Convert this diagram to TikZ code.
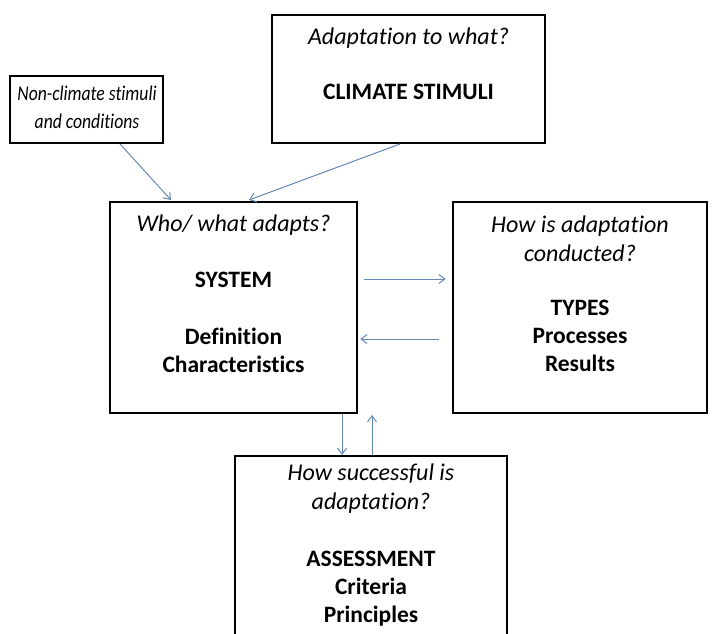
\documentclass[tikz,border=0pt]{standalone}
\usepackage{fontspec}
\setmainfont{Carlito}[Ligatures={NoCommon}]
\usetikzlibrary{positioning,arrows.meta}
\definecolor{arrowblue}{RGB}{100,135,180}
\newcommand{\narrow}[1]{\scalebox{0.84}[1]{#1}}

\begin{document}
\begin{tikzpicture}[x=1pt,y=-1pt,>={Straight Barb[length=6pt,width=9pt]},
    box/.style={draw,line width=2.6pt,inner sep=0pt},
    ask/.style={font=\fontsize{24}{29}\selectfont\itshape,align=center,inner sep=0pt},
    key/.style={font=\fontsize{23.5}{28}\selectfont\bfseries,align=center,inner sep=0pt},
    link/.style={->,draw=arrowblue,line width=1pt}]
    \useasboundingbox (0,0) rectangle (713,634);

    % boxes
    \node[box,minimum width=153pt,minimum height=67pt] (nonclim) at (86.5,109.5) {};
    \node[box,minimum width=273pt,minimum height=128pt] (clim) at (408.5,79) {};
    \node[box,minimum width=247pt,minimum height=211pt] (sys) at (233.5,307.5) {};
    \node[box,minimum width=254pt,minimum height=211pt] (types) at (580,307.5) {};
    \node[box,minimum width=272pt,minimum height=204pt] (assess) at (371,558) {};

    % texts
    \node[ask,font=\fontsize{21}{28}\selectfont\itshape] (nonclimq) at (87,107) {\narrow{Non-climate stimuli}\\\narrow{and conditions}};
    \node[ask] (climq) at (408.5,38) {Adaptation to what?};
    \node[key] (climk) at (408.5,92) {CLIMATE STIMULI};
    \node[ask] (sysq) at (233.5,225) {Who/ what adapts?};
    \node[key] (sysk) at (233.5,280) {SYSTEM};
    \node[key] (sysd) at (233.5,350) {Definition\\Characteristics};
    \node[ask] (typesq) at (580,239) {How is adaptation\\conducted?};
    \node[key] (typesk) at (580,336) {TYPES\\Processes\\Results};
    \node[ask] (assessq) at (371,489) {How successful is\\adaptation?};
    \node[key] (assessk) at (371,589) {ASSESSMENT\\Criteria\\Principles};

    % arrow ends
    \coordinate (c1) at (120,144);
    \coordinate (c2) at (171,200);
    \coordinate (c3) at (400,144);
    \coordinate (c4) at (249,200);

    \path
        (c1) edge[link] (c2)
        (c3) edge[link] (c4)
        (sys.east |- 0,279) ++(6,0) edge[link] ([xshift=-6pt]types.west |- 0,279)
        ([xshift=-13pt]types.west |- 0,339) edge[link] ([xshift=2pt]sys.east |- 0,339)
        (342,414) edge[link] (342,455)
        (372,455) edge[link] (372,415)
    ;
\end{tikzpicture}
\end{document}
